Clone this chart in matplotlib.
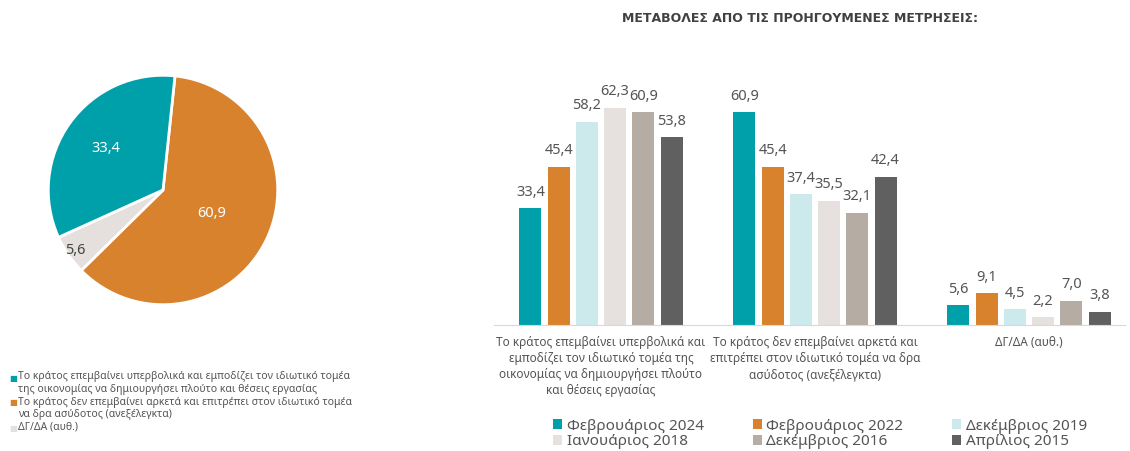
import matplotlib
matplotlib.use("Agg")
import matplotlib.pyplot as plt
import numpy as np

plt.rcParams['font.family'] = ['Noto Sans', 'DejaVu Sans']

# pie data
pie_labels = ["Το κράτος επεμβαίνει υπερβολικά και εμποδίζει τον ιδιωτικό τομέα\nτης οικονομίας να δημιουργήσει πλούτο και θέσεις εργασίας",
              "Το κράτος δεν επεμβαίνει αρκετά και επιτρέπει στον ιδιωτικό τομέα\nνα δρα ασύδοτος (ανεξέλεγκτα)",
              "ΔΓ/ΔΑ (αυθ.)"]
pie_values = [33.4, 60.9, 5.6]
pie_colors = ["#00a0aa", "#d9822e", "#e5e0de"]

# bar data
categories = ["Το κράτος επεμβαίνει υπερβολικά και\nεμποδίζει τον ιδιωτικό τομέα της\nοικονομίας να δημιουργήσει πλούτο\nκαι θέσεις εργασίας",
              "Το κράτος δεν επεμβαίνει αρκετά και\nεπιτρέπει στον ιδιωτικό τομέα να δρα\nασύδοτος (ανεξέλεγκτα)",
              "ΔΓ/ΔΑ (αυθ.)"]
series = ["Φεβρουάριος 2024", "Φεβρουάριος 2022", "Δεκέμβριος 2019",
          "Ιανουάριος 2018", "Δεκέμβριος 2016", "Απρίλιος 2015"]
feb2024 = [33.4, 60.9, 5.6]
feb2022 = [45.4, 45.4, 9.1]
dec2019 = [58.2, 37.4, 4.5]
jan2018 = [62.3, 35.5, 2.2]
dec2016 = [60.9, 32.1, 7.0]
apr2015 = [53.8, 42.4, 3.8]
bar_colors = ["#00a0aa", "#d9822e", "#cce9eb", "#e6e1de", "#b5aca3", "#606060"]

W, H = 1130, 451
fig = plt.figure(figsize=(W / 100, H / 100), dpi=100)

def box(l, t, r, b):
    return [l / W, 1 - b / H, (r - l) / W, (b - t) / H]

# ---- pie
ax1 = fig.add_axes(box(46, 73, 280, 307))
ordered = [pie_values[1], pie_values[2], pie_values[0]]
ocolors = [pie_colors[1], pie_colors[2], pie_colors[0]]
wedges, _ = ax1.pie(ordered, colors=ocolors, startangle=84, counterclock=False,
                    wedgeprops=dict(edgecolor="white", linewidth=2))
ax1.set_xlim(-1.02, 1.02)
ax1.set_ylim(-1.02, 1.02)
ax1.set_aspect("equal")
label_r = [0.47, 0.93, 0.62]
label_c = ["white", "#444444", "white"]
for w, v, r, c in zip(wedges, ordered, label_r, label_c):
    ang = np.deg2rad((w.theta1 + w.theta2) / 2)
    ax1.text(r * np.cos(ang), r * np.sin(ang), f"{v:.1f}".replace(".", ","),
             ha="center", va="center", fontsize=10.5, color=c)

# pie legend
ys = [378, 403, 428]
for lab, col, y in zip(pie_labels, pie_colors, ys):
    fig.text(9 / W, 1 - y / H, "■", color=col, fontsize=6, va="center", ha="left")
    fig.text(18 / W, 1 - (y - 6.5) / H, lab, color="#555555", fontsize=7.5,
             va="top", ha="left", linespacing=1.15)

# ---- bars
ax2 = fig.add_axes(box(494, 80, 1125, 325))
x = np.arange(len(categories))
step, width = 0.132, 0.103
data = [feb2024, feb2022, dec2019, jan2018, dec2016, apr2015]
for j, (vals, col, name) in enumerate(zip(data, bar_colors, series)):
    pos = x + (j - 2.5) * step
    bars = ax2.bar(pos, vals, width, color=col, label=name)
    for b, v in zip(bars, vals):
        ax2.text(b.get_x() + b.get_width() / 2, v + 2.5, f"{v:.1f}".replace(".", ","),
                 ha="center", va="bottom", fontsize=10.5, color="#555555")
ax2.set_xlim(-0.5, 2.449)
ax2.set_ylim(0, 70.2)
for s in ["top", "right", "left"]:
    ax2.spines[s].set_visible(False)
ax2.spines["bottom"].set_color("#d9d9d9")
ax2.set_yticks([])
ax2.set_xticks(x)
ax2.set_xticklabels(categories, fontsize=8.5, color="#555555", linespacing=1.3)
ax2.tick_params(axis="x", length=0, pad=8)

fig.text(800 / W, 1 - 18 / H, "ΜΕΤΑΒΟΛΕΣ ΑΠΟ ΤΙΣ ΠΡΟΗΓΟΥΜΕΝΕΣ ΜΕΤΡΗΣΕΙΣ:",
         ha="center", va="center", fontsize=9, fontweight="bold", color="#404040",
         family="DejaVu Sans")

# legend filled row by row like the reference
handles, labels = ax2.get_legend_handles_labels()
order = [0, 3, 1, 4, 2, 5]
fig.legend([handles[i] for i in order], [labels[i] for i in order],
           loc="center", bbox_to_anchor=(820 / W, 1 - 434 / H), ncol=3, frameon=False,
           fontsize=11, handlelength=0.6, handleheight=0.6, handletextpad=0.3,
           columnspacing=3.2, labelspacing=0.05, labelcolor="#555555")

fig.savefig("out.png", dpi=100, facecolor="white")
